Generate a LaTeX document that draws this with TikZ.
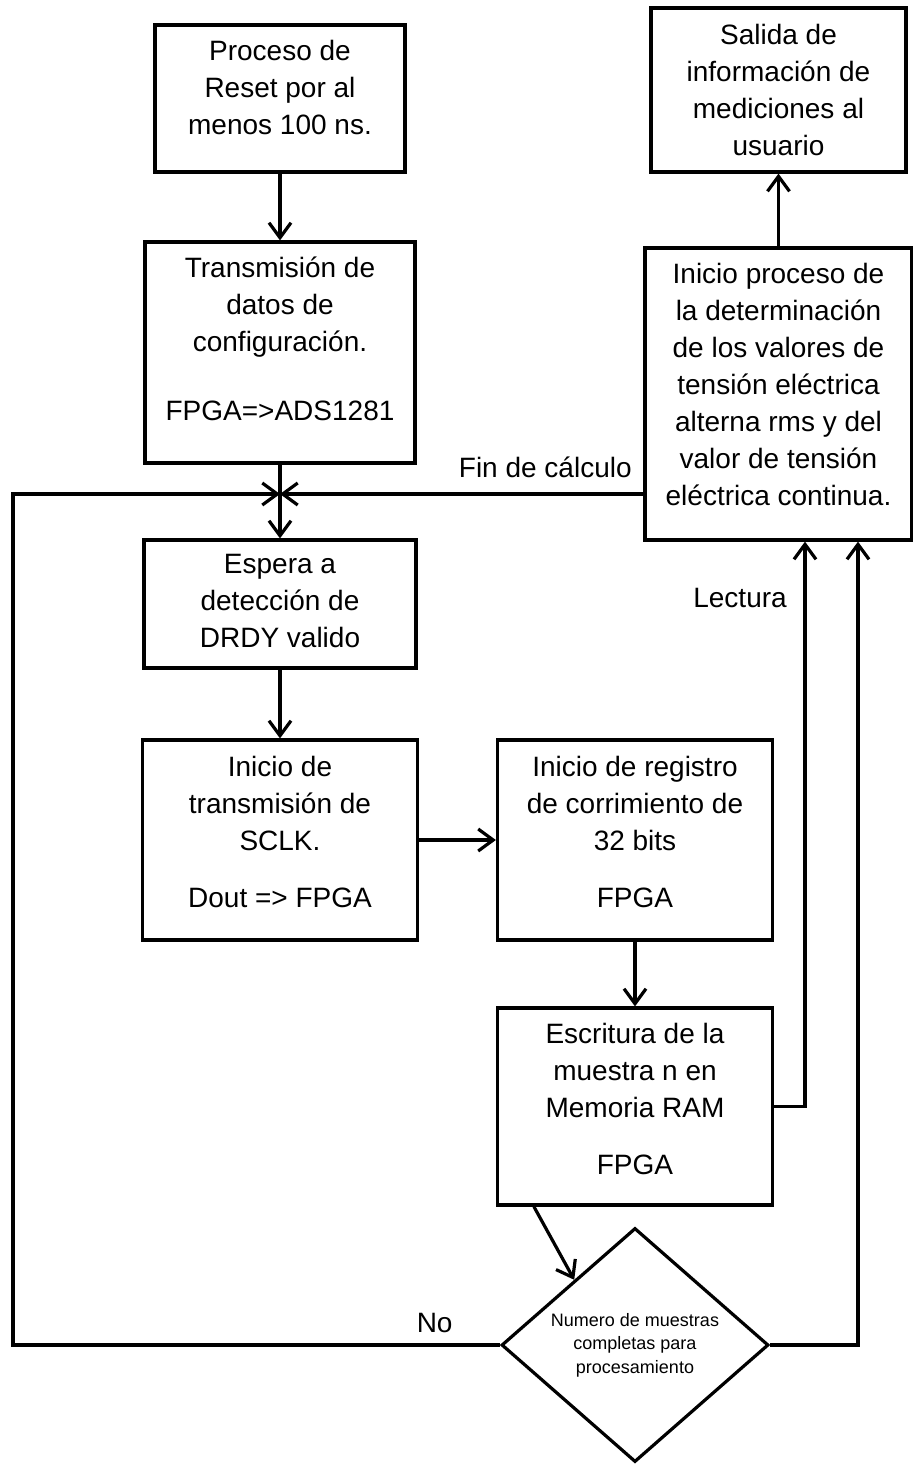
\documentclass[tikz,border=0pt]{standalone}
\usepackage{fontspec}
\setmainfont{Liberation Sans}
\usetikzlibrary{arrows.meta,positioning,shapes.geometric,calc}
\newcommand{\bajo}[1]{\rule[-#1]{0pt}{0pt}}

\begin{document}
\begin{tikzpicture}[->, >={Straight Barb[length=7.5pt,width=11pt]}, line width=1.6pt, x=0.5pt, y=0.5pt, node distance=3cm]
\tikzstyle{caja}=[rectangle,draw=black,line width=1.6pt,align=center,inner sep=0pt,font=\fontsize{14}{18.5}\selectfont]
\tikzstyle{rombo}=[diamond,draw=black,line width=1.6pt,align=center,inner sep=0pt,minimum width=133.5pt,minimum height=117pt,font=\fontsize{9}{11.8}\selectfont]
\tikzstyle{etiq}=[font=\fontsize{14}{18.5}\selectfont]
\useasboundingbox (0,0) rectangle (912,-1464);
\node[caja,minimum width=125pt,minimum height=73.5pt]    (reset)   at (280,-98.5)  {Proceso de\\Reset por al\\menos 100 ns.\bajo{11pt}};
\node[caja,minimum width=135pt,minimum height=110.5pt]   (config)  [below of=reset, node distance=127pt]   {Transmisión de\\datos de\\configuración.\\[16pt]FPGA=>ADS1281\bajo{13.5pt}};
\node[caja,minimum width=136pt,minimum height=64pt]      (wait)    [below of=config, node distance=125.75pt] {Espera a\\detección de\\DRDY valido\bajo{3pt}};
\node[caja,minimum width=137.5pt,minimum height=100pt]   (sclk)    [below of=wait, node distance=118pt]      {Inicio de\\transmisión de\\SCLK.\\[10pt]Dout => FPGA\bajo{8pt}};
\node[caja,minimum width=137.5pt,minimum height=100pt]   (shiftreg)[right of=sclk, node distance=177.5pt]    {Inicio de registro\\de corrimiento de\\32 bits\\[10pt]FPGA\bajo{8pt}};
\node[caja,minimum width=137.5pt,minimum height=98.5pt]  (write)   [below of=shiftreg, node distance=133.25pt] {Escritura de la\\muestra n en\\Memoria RAM\\[10pt]FPGA\bajo{8pt}};
\node[rombo]                                             (dec)     [below of=write, node distance=119.25pt]  {Numero de muestras\\completas para\\procesamiento};
\node[caja,minimum width=133.5pt,minimum height=146pt]   (calc)    at (778.5,-394) {Inicio proceso de\\la determinación\\de los valores de\\tensión eléctrica\\alterna rms y del\\valor de tensión\\eléctrica continua.\bajo{9.5pt}};
\node[caja,minimum width=127.5pt,minimum height=82pt]    (out)     [above of=calc, node distance=152pt]      {Salida de\\información de\\mediciones al\\usuario};
\coordinate (j)   at (280,-494);
\coordinate (izq) at (13,-494);
\path
(reset)  edge (config)
(config.south) edge (wait.north)
(sclk)   edge (shiftreg)
(shiftreg) edge (write);
\draw (wait) -- (sclk);
\draw (j -| calc.west) -- node[pos=0.27,above=4pt,etiq]{Fin de cálculo} (j);
\draw (dec.west) -| node[pos=0.067,above=2pt,etiq]{No} (izq) -- (j);
\draw ($(write.south west)+(38,0)$) -- ($(dec.west)!0.55!(dec.north)$);
\draw (write.east) -| node[pos=0.95,left=5pt,etiq]{Lectura} ($(calc.south)+(26.5,0)$);
\draw (dec.east) -| ($(calc.south)+(79.5,0)$);
\draw (calc.north) -- (calc.north |- out.south);
%\draw (dec.south) -- ++(0,-20);
\end{tikzpicture}
\end{document}
